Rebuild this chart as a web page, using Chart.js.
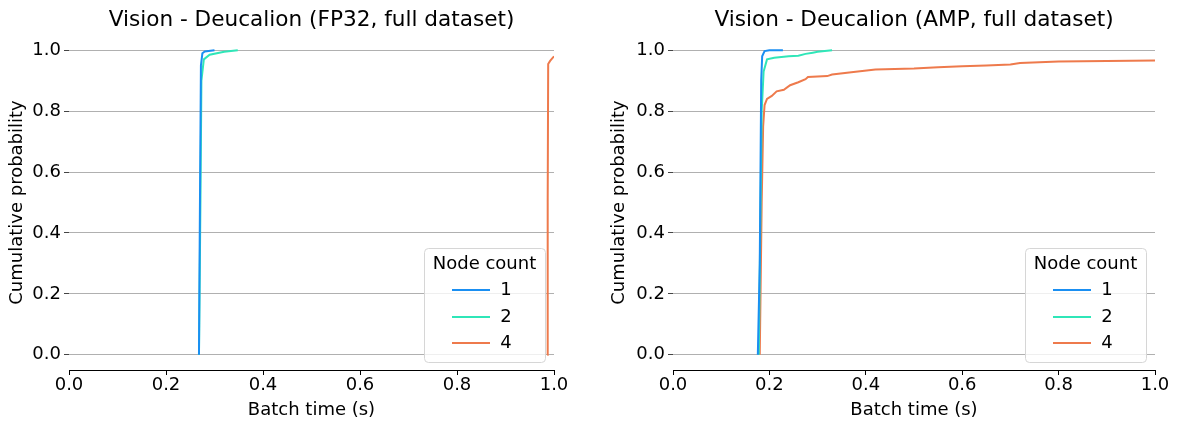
<!DOCTYPE html>
<html lang="en">
<head>
  <meta charset="UTF-8">
  <title>Vision - Deucalion batch time CDF</title>
  <script src="https://cdn.jsdelivr.net/npm/chart.js"></script>
  <style>
    body {
      margin: 0;
      background: #fff;
      font-family: 'DejaVu Sans', sans-serif;
    }
    .wrap {
      position: relative;
      width: 1178px;
      height: 423px;
    }
    canvas {
      position: absolute;
      top: 0;
    }
    #fp32Canvas { left: 0; }
    #ampCanvas { left: 589px; }
  </style>
</head>
<body>
  <div class="wrap">
    <canvas id="fp32Canvas" width="589" height="423"></canvas>
    <canvas id="ampCanvas" width="589" height="423"></canvas>
  </div>

  <script>
    // legend / series names
    const nodeCounts = ['1', '2', '4'];
    const seriesColors = ['#1a8ff2', '#2fe6b8', '#ee7a4c'];
    const xTicks = [0, 0.2, 0.4, 0.6, 0.8, 1.0];
    const yTicks = [0, 0.2, 0.4, 0.6, 0.8, 1.0];

    // FP32 panel: [batch time (s), cumulative probability]
    const fp32Node1 = [[0.268, 0], [0.270, 0.5], [0.272, 0.95], [0.275, 0.99], [0.280, 0.996], [0.300, 1.0]];
    const fp32Node2 = [[0.268, 0], [0.271, 0.5], [0.273, 0.9], [0.278, 0.97], [0.290, 0.985], [0.320, 0.995], [0.348, 1.0]];
    const fp32Node4 = [[0.986, 0], [0.987, 0.5], [0.988, 0.955], [0.992, 0.965], [1.0, 0.98], [1.01, 0.99], [1.05, 1.0]];

    // AMP panel
    const ampNode1 = [[0.176, 0], [0.180, 0.3], [0.183, 0.9], [0.185, 0.98], [0.190, 0.997], [0.200, 1.0], [0.228, 1.0]];
    const ampNode2 = [[0.178, 0], [0.181, 0.4], [0.184, 0.8], [0.188, 0.93], [0.195, 0.97], [0.210, 0.975], [0.240, 0.98],
      [0.260, 0.982], [0.275, 0.988], [0.290, 0.992], [0.300, 0.995], [0.330, 1.0]];
    const ampNode4 = [[0.180, 0], [0.184, 0.5], [0.187, 0.75], [0.190, 0.82], [0.195, 0.84], [0.205, 0.85], [0.215, 0.865],
      [0.230, 0.87], [0.243, 0.885], [0.260, 0.895], [0.275, 0.905], [0.280, 0.912], [0.320, 0.915], [0.330, 0.92],
      [0.370, 0.928], [0.420, 0.937], [0.500, 0.94], [0.550, 0.944], [0.600, 0.947], [0.650, 0.95], [0.700, 0.953],
      [0.720, 0.958], [0.800, 0.963], [0.900, 0.965], [1.0, 0.966]];

    const FONT = "'DejaVu Sans', sans-serif";

    // title + legend drawn in the plot area like matplotlib does
    const panelDecor = {
      id: 'panelDecor',
      afterDraw(chart, args, opts) {
        const ctx = chart.ctx;
        const area = chart.chartArea;
        ctx.save();

        // title
        ctx.fillStyle = '#000';
        ctx.font = '21.6px ' + FONT;
        ctx.textAlign = 'center';
        ctx.textBaseline = 'middle';
        ctx.fillText(opts.title, (area.left + area.right) / 2, 20);

        // legend box
        const w = 121, h = 114;
        const x = area.right - 9 - w;
        const y = area.bottom - 8 - h;
        ctx.beginPath();
        ctx.roundRect(x + 0.5, y + 0.5, w, h, 4);
        ctx.fillStyle = 'rgba(255,255,255,0.8)';
        ctx.fill();
        ctx.strokeStyle = '#d6d6d6';
        ctx.lineWidth = 1;
        ctx.stroke();

        ctx.fillStyle = '#000';
        ctx.font = '18px ' + FONT;
        ctx.fillText('Node count', x + w / 2, y + 16);

        const rows = [42, 69, 95];
        chart.data.datasets.forEach((ds, i) => {
          const ry = y + rows[i];
          ctx.beginPath();
          ctx.moveTo(x + 28, ry);
          ctx.lineTo(x + 66, ry);
          ctx.strokeStyle = ds.borderColor;
          ctx.lineWidth = 2;
          ctx.stroke();
          ctx.fillStyle = '#000';
          ctx.fillText(ds.label, x + 82, ry);
        });
        ctx.restore();
      }
    };

    function makeChart(canvasId, title, series, padLeft, padRight, yWidth) {
      const ctx = document.getElementById(canvasId).getContext('2d');
      return new Chart(ctx, {
        type: 'line',
        data: {
          datasets: series.map((pts, i) => ({
            label: nodeCounts[i],
            data: pts.map(p => ({ x: p[0], y: p[1] })),
            borderColor: seriesColors[i],
            backgroundColor: seriesColors[i],
            borderWidth: 2,
            pointRadius: 0,
            tension: 0,
            fill: false
          }))
        },
        options: {
          responsive: false,
          animation: false,
          devicePixelRatio: 1,
          layout: {
            padding: { top: 35, left: padLeft, right: padRight, bottom: 0 }
          },
          plugins: {
            legend: { display: false },
            tooltip: { enabled: false },
            panelDecor: { title: title }
          },
          scales: {
            x: {
              type: 'linear',
              min: 0,
              max: 1,
              afterBuildTicks: s => { s.ticks = xTicks.map(v => ({ value: v })); },
              afterFit: s => { s.height = 53; },
              ticks: {
                color: '#000',
                font: { family: FONT, size: 18 },
                padding: 0,
                maxRotation: 0,
                callback: v => v.toFixed(1)
              },
              grid: {
                drawOnChartArea: false,
                drawTicks: true,
                tickLength: 5,
                tickColor: '#000'
              },
              border: { display: true, color: '#000', width: 1 },
              title: {
                display: true,
                text: 'Batch time (s)',
                color: '#000',
                font: { family: FONT, size: 18 },
                padding: { top: 0, bottom: 2 }
              }
            },
            y: {
              type: 'linear',
              min: -0.05,
              max: 1.05,
              afterBuildTicks: s => { s.ticks = yTicks.map(v => ({ value: v })); },
              afterFit: s => { s.width = yWidth; },
              ticks: {
                color: '#000',
                font: { family: FONT, size: 18 },
                padding: 3,
                callback: v => v.toFixed(1)
              },
              grid: {
                color: '#b0b0b0',
                lineWidth: 1,
                drawTicks: true,
                tickLength: 5,
                tickColor: '#444'
              },
              border: { display: false },
              title: {
                display: true,
                text: 'Cumulative probability',
                color: '#000',
                font: { family: FONT, size: 18 },
                padding: { top: 7, bottom: 0 }
              }
            }
          }
        },
        plugins: [panelDecor]
      });
    }

    makeChart('fp32Canvas', 'Vision - Deucalion (FP32, full dataset)', [fp32Node1, fp32Node2, fp32Node4], 0, 35, 69);
    makeChart('ampCanvas', 'Vision - Deucalion (AMP, full dataset)', [ampNode1, ampNode2, ampNode4], 13, 23, 71);
  </script>
</body>
</html>
